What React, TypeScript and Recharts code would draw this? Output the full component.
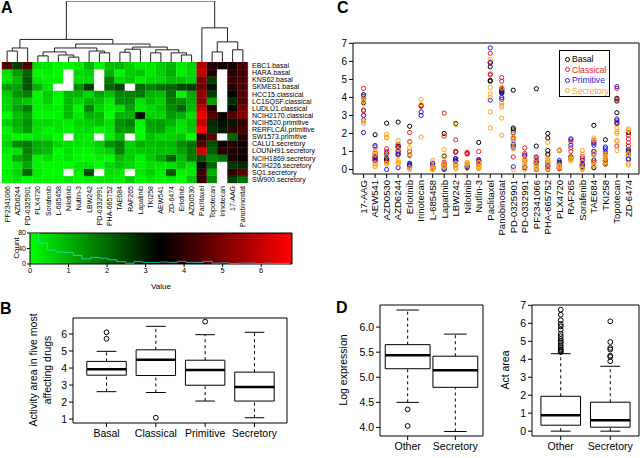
import React from "react";
import {
  Bar,
  BarChart,
  Cell,
  ComposedChart,
  Legend,
  Line,
  ReferenceArea,
  ReferenceLine,
  Scatter,
  XAxis,
  YAxis,
} from "recharts";

const FONT = '"Liberation Sans", Arial, Helvetica, sans-serif';

// ---- data -----------------------------------------------------------------

const drugs = [
  "17-AAG", "AEW541", "AZD0530", "AZD6244", "Erlotinib", "Irinotecan", "L-685458", "Lapatinib",
  "LBW242", "Nilotinib", "Nutlin-3", "Paclitaxel", "Panobinostat", "PD-0325901", "PD-0332991",
  "PF2341066", "PHA-665752", "PLX4720", "RAF265", "Sorafenib", "TAE684", "TKI258", "Topotecan", "ZD-6474",
];

const cellLines = [
  "EBC1.basal", "HARA.basal", "KNS62.basal", "SKMES1.basal", "HCC15.classical", "LC1SQSF.classical",
  "LUDLU1.classical", "NCIH2170.classical", "NCIH520.primitive", "RERFLCAI.primitive", "SW1573.primitive",
  "CALU1.secretory", "LOUNH91.secretory", "NCIH1869.secretory", "NCIH226.secretory", "SQ1.secretory",
  "SW900.secretory",
];

const subtypes = ["Basal", "Classical", "Primitive", "Secretory"];
const subtypeColors = ["#000000", "#ec1c24", "#1c1ce8", "#ffa31a"];
const cellSubtype = [0, 0, 0, 0, 1, 1, 1, 1, 2, 2, 2, 3, 3, 3, 3, 3, 3];

// activity area, one row per drug (same order as drugs), values follow cellLines; null = not measured
const activity: (number | null)[][] = [
  [3.7, 3.95, 4.15, 3.85, 3.3, 2.75, 3.25, 4.5, 3.0, 4.05, 2.05, 3.9, 3.8, 3.75, 2.65, 4.0, 2.55],
  [0.7, 0.65, 0.5, 1.93, 0.9, 0.6, 0.75, 0.55, 1.33, 1.25, 0.5, 1.0, 0.85, 1.2, 0.35, 0.25, 0.15],
  [0.55, 0.5, 0.6, 2.57, 1.15, 1.0, 0.9, 0.45, 0.8, 0.7, 0.0, 1.95, 1.8, 1.75, 0.35, 0.3, 0.75],
  [2.63, 1.3, 0.9, 1.25, 1.4, 1.0, 1.2, 0.8, 1.05, 0.85, 0.1, 1.6, 0.4, 1.1, 0.35, 0.5, 0.3],
  [0.25, 0.2, 0.8, 2.4, 0.1, 1.55, 2.05, 1.0, 0.35, 0.3, 0.8, 1.5, 1.2, 0.85, 0.75, 0.1, 0.0],
  [3.55, null, null, null, null, null, null, 3.5, 3.2, 3.0, null, 3.6, 3.9, 1.8, null, null, null],
  [0.1, 0.05, 0.15, null, 0.15, 0.05, 0.2, 0.1, 0.35, 0.3, 0.05, 0.5, 0.0, 0.1, 0.05, 0.0, 0.15],
  [0.3, 0.75, 0.2, 2.0, 1.85, 0.4, 0.25, 3.13, 0.1, 0.0, 0.05, 1.1, 0.7, 0.15, 0.2, 0.3, 0.1],
  [1.0, 0.6, 0.45, 2.55, 0.5, 0.95, 1.65, 1.0, 0.6, 0.5, 0.25, 0.3, 0.1, 0.05, 0.35, 2.5, 0.2],
  [0.1, null, null, null, 0.95, 0.9, 0.85, 0.9, 0.2, 0.15, null, 0.4, 0.35, 0.3, 0.05, null, 0.3],
  [0.3, 0.5, 0.45, 1.5, 1.0, 0.5, 0.1, 0.3, 0.55, 0.45, 0.35, 0.35, 0.15, 0.05, 0.4, 0.2, 0.1],
  [5.7, 5.95, 4.95, 4.9, 5.25, 5.3, 5.9, 6.45, 5.95, 6.75, 3.85, 4.55, 6.1, 2.3, 3.2, 4.2, 4.0],
  [4.3, 4.25, 4.35, 4.4, 4.5, 4.45, 4.9, 5.1, 4.0, 4.25, 3.9, 3.55, 3.7, 3.45, 2.85, 4.55, 1.9],
  [4.4, 2.05, 2.2, 2.3, 1.7, 0.7, 1.75, 1.2, 1.4, 1.3, 0.15, 1.8, 1.65, 1.5, 1.15, 2.0, 0.0],
  [0.1, null, null, null, 1.2, 0.75, 0.5, 0.9, 0.8, 0.15, null, 0.6, 0.45, 0.15, 0.0, null, 0.3],
  [4.48, 0.4, 0.35, 1.3, 0.7, 0.55, 0.5, 0.0, 0.65, 0.2, 0.35, 0.6, 0.3, 0.1, 0.05, 0.2, 0.1],
  [0.85, 1.05, 1.75, 2.0, 0.8, 0.2, 0.15, 0.0, 0.4, 0.3, 0.2, 1.5, 0.6, 0.05, 0.5, 0.4, 0.3],
  [0.4, 0.05, 0.3, 1.05, 0.1, 0.2, 0.15, 0.05, 0.5, 0.35, 0.3, 1.1, 1.05, 0.2, 0.15, 0.25, 0.1],
  [0.6, 0.65, 0.7, null, 1.65, 1.55, 1.2, 1.0, 1.7, 1.35, null, 0.55, 0.6, 0.65, 0.5, null, 0.6],
  [0.35, 0.2, 0.15, 0.3, 0.7, 0.6, 0.25, 0.1, 0.5, 0.15, 0.3, 1.05, 0.85, 0.4, 0.05, 0.0, 0.1],
  [1.0, 0.1, 0.5, 2.45, 1.6, 1.45, 0.4, 1.0, 1.5, 1.35, 0.85, 1.75, 1.65, 0.9, 0.75, 0.3, 0.2],
  [0.35, 0.3, 0.5, 1.65, 1.0, 0.9, 0.5, 0.6, 1.25, 1.15, 0.8, 0.85, 0.75, 0.7, 0.4, 0.6, 0.3],
  [3.95, 3.8, 2.55, 3.15, 2.6, 1.3, 3.9, 4.5, 2.8, 2.7, 4.6, 2.3, 2.1, 1.55, 2.0, 1.05, 1.6],
  [0.95, 1.1, 0.8, 2.05, 1.9, 1.7, 1.5, 1.3, 1.0, 0.6, 0.55, 0.9, 0.8, 2.15, 0.35, 2.25, 0.25],
];

// column order of the clustered heatmap
const heatmapOrder = [
  "PF2341066", "AZD6244", "PD-0325901", "PLX4720", "Sorafenib", "L-685458", "Nilotinib", "Nutlin-3",
  "LBW242", "PD-0332991", "PHA-665752", "TAE684", "RAF265", "Lapatinib", "TKI258", "AEW541", "ZD-6474",
  "Erlotinib", "AZD0530", "Paclitaxel", "Topotecan", "Irinotecan", "17-AAG", "Panobinostat",
];

// hclust-style merges: negative = leaf (heatmap column -n), positive = earlier merge; third = height
const dendroMerges: [number, number, number][] = [
  [-1, -2, 1.8], [1, -3, 2.3], [-4, -5, 1.0], [-7, -8, 0.8], [-6, 4, 1.15], [3, 5, 1.65],
  [-10, -11, 1.5], [-9, 7, 1.8], [6, 8, 2.3], [-12, -13, 1.6], [10, -14, 2.1], [-15, -16, 1.5],
  [-18, -19, 1.15], [-17, 13, 1.5], [12, 14, 2.0], [11, 15, 2.45], [9, 16, 2.95], [2, 17, 3.7],
  [-21, -22, 1.65], [-23, -24, 2.0], [19, 20, 3.3], [-20, 21, 5.6], [18, 22, 10.0],
];

// colour-key histogram (counts per bin)
const histBreaks = [
  0, 0.225, 0.45, 0.675, 0.9, 1.125, 1.35, 1.575, 1.8, 2.025, 2.25, 2.475, 2.7, 2.925, 3.15, 3.375,
  3.6, 3.825, 4.05, 4.275, 4.5, 4.725, 4.95, 5.175, 5.4, 5.625, 5.85, 6.075, 6.3, 6.525, 6.75,
];
const histCounts = [80, 54, 36, 31, 30, 22, 13, 17, 15, 11, 6, 2, 6, 4, 4, 5, 4, 7, 4, 4, 7, 2, 3, 1, 2, 2, 1, 2, 1, 1];

// panel B boxplots
const bGroups = ["Basal", "Classical", "Primitive", "Secretory"];
const bLow = [2.61, 2.56, 2.06, 1.08];
const bQ1 = [3.58, 3.56, 2.99, 2.06];
const bMed = [3.93, 4.48, 3.89, 2.89];
const bQ3 = [4.39, 5.07, 4.46, 3.76];
const bHigh = [4.98, 6.45, 5.96, 6.1];
const bOutliers = [[6.1, 5.72], [1.08], [6.73], []];

// panel D boxplots
const dGroups = ["Other", "Secretory"];
const exprLow = [4.5, 3.92];
const exprQ1 = [5.17, 4.8];
const exprMed = [5.44, 5.14];
const exprQ3 = [5.65, 5.42];
const exprHigh = [6.34, 5.86];
const exprOutliers = [[4.36, 4.03], []];

const actLow = [0, 0];
const actQ1 = [0.33, 0.22];
const actMed = [0.89, 0.61];
const actQ3 = [1.94, 1.61];
const actHigh = [4.31, 3.61];
const actOutliers = [
  [4.4, 4.45, 4.5, 4.57, 4.67, 4.78, 4.91, 5.0, 5.13, 5.28, 5.41, 5.65, 5.83, 5.96, 6.17, 6.48, 6.76],
  [3.89, 4.13, 4.2, 4.54, 4.63, 4.96, 6.11],
];

// ---- helpers --------------------------------------------------------------

function heatColor(v: number | null) {
  if (v == null) return "#ffffff";
  const mid = 3.375;
  if (v <= mid) return `rgb(0,${Math.round(255 * (1 - v / mid))},0)`;
  return `rgb(${Math.round(255 * Math.min(1, (v - mid) / mid))},0,0)`;
}

function dendroSegments() {
  const nx: number[] = [];
  const nh: number[] = [];
  const node = (c: number) => (c < 0 ? { x: -c - 0.5, h: 0 } : { x: nx[c - 1], h: nh[c - 1] });
  return dendroMerges.map(([a, b, h], i) => {
    const l = node(a);
    const r = node(b);
    nx[i] = (l.x + r.x) / 2;
    nh[i] = h;
    return [
      { x: l.x, y: l.h },
      { x: l.x, y: h },
      { x: r.x, y: h },
      { x: r.x, y: r.h },
    ];
  });
}

const rotatedTick = (fontSize: number, label: (v: any) => string) => (props: any) => {
  const { x, y, payload } = props;
  return (
    <text x={x} y={y} transform={`rotate(-90 ${x} ${y})`} textAnchor="end" dy="0.35em" fontSize={fontSize} fill="#000">
      {label(payload.value)}
    </text>
  );
};

function VText({ x, y, size, children }: { x: number; y: number; size: number; children: React.ReactNode }) {
  return (
    <div
      style={{
        position: "absolute",
        left: x,
        top: y,
        transform: "translate(-50%, -50%) rotate(-90deg)",
        fontSize: size,
        lineHeight: 1,
        whiteSpace: "nowrap",
      }}
    >
      {children}
    </div>
  );
}

function PanelLetter({ x, y, children }: { x: number; y: number; children: string }) {
  return (
    <div style={{ position: "absolute", left: x, top: y, fontSize: 16, fontWeight: "bold", lineHeight: "16px" }}>
      {children}
    </div>
  );
}

const openCircle = (r: number) => (props: any) =>
  <circle cx={props.cx} cy={props.cy} r={r} fill="none" stroke={props.fill || "#000"} strokeWidth={1} />;

type BoxProps = {
  left: number;
  top: number;
  width: number;
  height: number;
  margin: { top: number; right: number; bottom: number; left: number };
  groups: string[];
  low: number[];
  q1: number[];
  med: number[];
  q3: number[];
  high: number[];
  outliers: number[][];
  xDomain: [number, number];
  yDomain: [number, number];
  yTicks: number[];
  yDigits: number;
  yAxisWidth: number;
  boxHalf: number;
};

function BoxPanel(p: BoxProps) {
  const points = p.outliers.flatMap((arr, i) => arr.map((v) => ({ x: i + 1, y: v })));
  const marks = p.groups.flatMap((g, i) => {
    const c = i + 1;
    const w = p.boxHalf;
    return [
      <ReferenceLine key={g + "wl"} segment={[{ x: c, y: p.low[i] }, { x: c, y: p.q1[i] }]} stroke="#000" strokeDasharray="3 3" />,
      <ReferenceLine key={g + "wh"} segment={[{ x: c, y: p.q3[i] }, { x: c, y: p.high[i] }]} stroke="#000" strokeDasharray="3 3" />,
      <ReferenceLine key={g + "cl"} segment={[{ x: c - w / 2, y: p.low[i] }, { x: c + w / 2, y: p.low[i] }]} stroke="#000" />,
      <ReferenceLine key={g + "ch"} segment={[{ x: c - w / 2, y: p.high[i] }, { x: c + w / 2, y: p.high[i] }]} stroke="#000" />,
      <ReferenceArea key={g + "bx"} x1={c - w} x2={c + w} y1={p.q1[i]} y2={p.q3[i]} fill="none" fillOpacity={0} stroke="#000" strokeOpacity={1} />,
      <ReferenceLine key={g + "md"} segment={[{ x: c - w, y: p.med[i] }, { x: c + w, y: p.med[i] }]} stroke="#000" strokeWidth={2.5} />,
    ];
  });
  return (
    <div style={{ position: "absolute", left: p.left, top: p.top }}>
      <ComposedChart width={p.width} height={p.height} margin={p.margin}>
        <XAxis
          type="number"
          dataKey="x"
          domain={p.xDomain}
          allowDataOverflow
          ticks={p.groups.map((_, i) => i + 1)}
          tickFormatter={(v) => p.groups[v - 1]}
          interval={0}
          height={22}
          axisLine={false}
          tickLine={{ stroke: "#000" }}
          tickSize={4}
          tickMargin={3}
          tick={{ fill: "#000", fontSize: 10.5 }}
        />
        <YAxis
          type="number"
          dataKey="y"
          domain={p.yDomain}
          allowDataOverflow
          ticks={p.yTicks}
          tickFormatter={(v) => Number(v).toFixed(p.yDigits)}
          interval={0}
          width={p.yAxisWidth}
          axisLine={false}
          tickLine={{ stroke: "#000" }}
          tickSize={4}
          tickMargin={2}
          tick={{ fill: "#000", fontSize: 10.5 }}
        />
        <ReferenceArea
          x1={p.xDomain[0]}
          x2={p.xDomain[1]}
          y1={p.yDomain[0]}
          y2={p.yDomain[1]}
          fill="none"
          fillOpacity={0}
          stroke="#000"
          strokeOpacity={1}
        />
        {marks}
        <Scatter data={points} fill="#000" shape={openCircle(2.4)} isAnimationActive={false} />
      </ComposedChart>
    </div>
  );
}

// ---- app ------------------------------------------------------------------

export default function App() {
  const heatRows = heatmapOrder.map((drug) => {
    const row: Record<string, any> = { drug };
    cellLines.forEach((_, ri) => {
      row["r" + ri] = 1;
    });
    return row;
  });
  const rowTicks = cellLines.map((_, ri) => ri + 0.5);
  const segments = dendroSegments();

  const histData = histCounts.map((c, i) => ({ x: histBreaks[i], y: c }));
  histData.push({ x: histBreaks[histBreaks.length - 1], y: histCounts[histCounts.length - 1] });

  const scatterSets = subtypes.map((_, s) =>
    drugs.flatMap((_, di) =>
      activity[di]
        .map((v, ri) => ({ v, ri }))
        .filter(({ v, ri }) => v != null && cellSubtype[ri] === s)
        .map(({ v }) => ({ x: di + 1, y: v as number })),
    ),
  );

  return (
    <div
      style={{
        position: "absolute",
        left: 0,
        top: 0,
        width: 640,
        height: 458,
        background: "#fff",
        overflow: "hidden",
        fontFamily: FONT,
        color: "#000",
      }}
    >
      {/* ---------- A: dendrogram ---------- */}
      <div style={{ position: "absolute", left: 0, top: 0 }}>
        <ComposedChart width={250} height={62} margin={{ top: 1, right: 2, bottom: 0, left: 2 }}>
          <XAxis type="number" dataKey="x" domain={[0, 24]} hide allowDataOverflow />
          <YAxis type="number" dataKey="y" domain={[0, 10]} hide allowDataOverflow />
          {segments.map((pts, i) => (
            <Line
              key={i}
              data={pts}
              dataKey="y"
              type="linear"
              dot={false}
              stroke="#222"
              strokeWidth={1}
              isAnimationActive={false}
            />
          ))}
        </ComposedChart>
      </div>

      {/* ---------- A: heatmap ---------- */}
      <div style={{ position: "absolute", left: 0, top: 62 }}>
        <BarChart
          width={320}
          height={172}
          data={heatRows}
          margin={{ top: 0, right: 0, bottom: 0, left: 2 }}
          barCategoryGap={0}
          barGap={0}
        >
          <XAxis
            dataKey="drug"
            type="category"
            interval={0}
            height={51}
            axisLine={false}
            tickLine={false}
            tickSize={2}
            tickMargin={1}
            tick={rotatedTick(7, (v) => String(v))}
          />
          <YAxis
            type="number"
            orientation="right"
            domain={[0, 17]}
            ticks={rowTicks}
            interval={0}
            tickFormatter={(v) => cellLines[16 - Math.floor(v)]}
            width={72}
            axisLine={false}
            tickLine={false}
            tickSize={2}
            tickMargin={2}
            tick={{ fill: "#000", fontSize: 7 }}
          />
          {cellLines
            .map((_, ri) => 16 - ri)
            .map((ri) => (
              <Bar key={ri} dataKey={"r" + ri} stackId="h" isAnimationActive={false}>
                {heatmapOrder.map((drug) => {
                  const fill = heatColor(activity[drugs.indexOf(drug)][ri]);
                  return <Cell key={drug} fill={fill} stroke={fill} strokeWidth={0.4} />;
                })}
              </Bar>
            ))}
        </BarChart>
      </div>

      {/* ---------- A: colour key ---------- */}
      <div style={{ position: "absolute", left: 0, top: 225 }}>
        <ComposedChart width={300} height={70} data={histData} margin={{ top: 8, right: 8, bottom: 15, left: 12 }}>
          <defs>
            <linearGradient id="keyGrad" x1="0" y1="0" x2="1" y2="0">
              <stop offset="0%" stopColor="#00ff00" />
              <stop offset="49.6%" stopColor="#000000" />
              <stop offset="99.3%" stopColor="#ff0000" />
              <stop offset="100%" stopColor="#ff0000" />
            </linearGradient>
          </defs>
          <XAxis
            type="number"
            dataKey="x"
            domain={[0, 6.8]}
            allowDataOverflow
            ticks={[0, 1, 2, 3, 4, 5, 6]}
            interval={0}
            height={16}
            axisLine={false}
            tickLine={{ stroke: "#000" }}
            tickSize={3}
            tickMargin={1}
            tick={{ fill: "#000", fontSize: 7.5 }}
          />
          <YAxis
            type="number"
            domain={[0, 80]}
            allowDataOverflow
            ticks={[0, 40, 80]}
            interval={0}
            width={18}
            axisLine={false}
            tickLine={{ stroke: "#000" }}
            tickSize={3}
            tickMargin={1}
            tick={{ fill: "#000", fontSize: 7 }}
          />
          <ReferenceArea x1={0} x2={6.8} y1={0} y2={80} fill="url(#keyGrad)" fillOpacity={1} />
          <ReferenceArea x1={0} x2={6.8} y1={0} y2={80} fill="none" fillOpacity={0} stroke="#000" strokeOpacity={1} />
          <Line
            dataKey="y"
            type="stepAfter"
            dot={false}
            stroke="#2fe0e6"
            strokeOpacity={0.7}
            strokeWidth={1}
            isAnimationActive={false}
          />
        </ComposedChart>
      </div>
      <VText x={17} y={248} size={8}>Count</VText>
      <div style={{ position: "absolute", left: 161, top: 286, transform: "translate(-50%, -50%)", fontSize: 8 }}>Value</div>

      {/* ---------- C: activity per drug ---------- */}
      <div style={{ position: "absolute", left: 320, top: 30 }}>
        <ComposedChart width={320} height={208} margin={{ top: 13, right: 1, bottom: 0, left: 17 }}>
          <XAxis
            type="number"
            dataKey="x"
            domain={[0.08, 24.92]}
            allowDataOverflow
            ticks={drugs.map((_, i) => i + 1)}
            interval={0}
            height={64}
            axisLine={false}
            tickLine={{ stroke: "#000" }}
            tickSize={4}
            tickMargin={2}
            tick={rotatedTick(9.5, (v) => drugs[v - 1])}
          />
          <YAxis
            type="number"
            dataKey="y"
            domain={[-0.25, 7.02]}
            allowDataOverflow
            ticks={[0, 1, 2, 3, 4, 5, 6, 7]}
            interval={0}
            width={16}
            axisLine={false}
            tickLine={{ stroke: "#000" }}
            tickSize={4}
            tickMargin={2}
            tick={{ fill: "#000", fontSize: 10 }}
          />
          <ReferenceArea
            x1={0.08}
            x2={24.92}
            y1={-0.25}
            y2={7.02}
            fill="none"
            fillOpacity={0}
            stroke="#000"
            strokeOpacity={1}
          />
          {subtypes.map((name, s) => (
            <Scatter
              key={name}
              name={name}
              data={scatterSets[s]}
              fill={subtypeColors[s]}
              shape={openCircle(2.1)}
              isAnimationActive={false}
            />
          ))}
          <Legend
            layout="vertical"
            align="center"
            verticalAlign="middle"
            wrapperStyle={{ position: "absolute", left: 239, top: 20, width: 51, height: 47 }}
            content={() => (
              <div
                style={{
                  width: 51,
                  height: 47,
                  boxSizing: "border-box",
                  border: "1px solid #000",
                  background: "#fff",
                  padding: "3px 0 0 4px",
                }}
              >
                {subtypes.map((name, s) => (
                  <div
                    key={name}
                    style={{ display: "flex", alignItems: "center", height: 10.5, fontSize: 8.6, color: subtypeColors[s] }}
                  >
                    <svg width={7} height={7} style={{ marginRight: 1 }}>
                      <circle cx={3.5} cy={3.5} r={2} fill="none" stroke={subtypeColors[s]} strokeWidth={1} />
                    </svg>
                    {name}
                  </div>
                ))}
              </div>
            )}
          />
        </ComposedChart>
      </div>

      {/* ---------- B ---------- */}
      <BoxPanel
        left={0}
        top={290}
        width={300}
        height={160}
        margin={{ top: 28, right: 13, bottom: 5, left: 53 }}
        groups={bGroups}
        low={bLow}
        q1={bQ1}
        med={bMed}
        q3={bQ3}
        high={bHigh}
        outliers={bOutliers}
        xDomain={[0.32, 4.66]}
        yDomain={[0.77, 6.94]}
        yTicks={[1, 2, 3, 4, 5, 6]}
        yDigits={0}
        yAxisWidth={20}
        boxHalf={0.4}
      />
      <VText x={33} y={370} size={10.5}>Activity area in five most</VText>
      <VText x={47} y={370} size={10.5}>affecting drugs</VText>

      {/* ---------- D ---------- */}
      <BoxPanel
        left={320}
        top={290}
        width={170}
        height={170}
        margin={{ top: 15, right: 7, bottom: 2, left: 38 }}
        groups={dGroups}
        low={exprLow}
        q1={exprQ1}
        med={exprMed}
        q3={exprQ3}
        high={exprHigh}
        outliers={exprOutliers}
        xDomain={[0.42, 2.58]}
        yDomain={[3.83, 6.44]}
        yTicks={[4, 4.5, 5, 5.5, 6]}
        yDigits={1}
        yAxisWidth={22}
        boxHalf={0.47}
      />
      <VText x={343} y={370} size={10.5}>Log expression</VText>
      <BoxPanel
        left={490}
        top={290}
        width={150}
        height={170}
        margin={{ top: 15, right: 1, bottom: 2, left: 28 }}
        groups={dGroups}
        low={actLow}
        q1={actQ1}
        med={actMed}
        q3={actQ3}
        high={actHigh}
        outliers={actOutliers}
        xDomain={[0.42, 2.58]}
        yDomain={[-0.27, 7.02]}
        yTicks={[0, 1, 2, 3, 4, 5, 6, 7]}
        yDigits={0}
        yAxisWidth={14}
        boxHalf={0.4}
      />
      <VText x={505} y={370} size={10.5}>Act area</VText>

      <PanelLetter x={1} y={0}>A</PanelLetter>
      <PanelLetter x={337} y={0}>C</PanelLetter>
      <PanelLetter x={0} y={301}>B</PanelLetter>
      <PanelLetter x={336} y={300}>D</PanelLetter>
    </div>
  );
}
